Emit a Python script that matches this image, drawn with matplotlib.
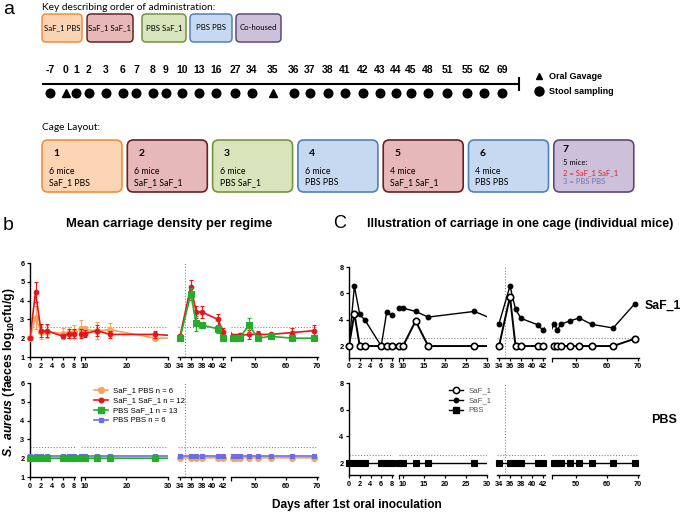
import numpy as np
import matplotlib
matplotlib.use('Agg')
import matplotlib.pyplot as plt
from matplotlib.patches import FancyBboxPatch
from matplotlib.lines import Line2D

plt.rcParams['font.family'] = ['Liberation Sans', 'DejaVu Sans']
plt.rcParams['mathtext.fontset'] = 'custom'
plt.rcParams['mathtext.rm'] = 'Liberation Sans:bold'
plt.rcParams['mathtext.it'] = 'Liberation Sans:italic:bold'
plt.rcParams['mathtext.bf'] = 'Liberation Sans:bold'

# ---------------- data ----------------
timeline_days = [-7, 0, 1, 2, 3, 6, 7, 8, 9, 10, 13, 16, 27, 34, 35, 36, 37, 38,
                 41, 42, 43, 44, 45, 48, 51, 55, 62, 69]
gavage_days = [0, 35]

key_labels = ['SaF_1 PBS', 'SaF_1 SaF_1', 'PBS SaF_1', 'PBS PBS', 'Co-housed']
cage_numbers = ['1', '2', '3', '4', '5', '6', '7']
cage_mice = ['6 mice', '6 mice', '6 mice', '6 mice', '4 mice', '4 mice', '5 mice:']
cage_regimes = ['SaF_1 PBS', 'SaF_1 SaF_1', 'PBS SaF_1', 'PBS PBS', 'SaF_1 SaF_1', 'PBS PBS', '']
cage7_lines = ['2 = SaF_1 SaF_1', '3 = PBS PBS']

days = [0, 1, 2, 3, 6, 7, 8, 9, 10, 13, 16, 27,
        34, 36, 37, 38, 41, 42, 43, 44, 45, 48, 51, 55, 62, 69]

saf1_pbs_mean = [2.0, 3.1, 2.35, 2.35, 2.25, 2.3, 2.35, 2.5, 2.45, 2.4, 2.45, 2.0,
                 2.02, 2.02, 2.02, 2.02, 2.02, 2.02, 2.02, 2.02, 2.02, 2.02, 2.02, 2.02, 2.02, 2.02]
saf1_pbs_err = [0.0, 0.6, 0.4, 0.35, 0.3, 0.3, 0.35, 0.45, 0.2, 0.45, 0.35, 0.1,
                0.0, 0.0, 0.0, 0.0, 0.0, 0.0, 0.0, 0.0, 0.0, 0.0, 0.0, 0.0, 0.0, 0.0]
saf1_saf1_mean = [2.0, 4.45, 2.4, 2.4, 2.1, 2.25, 2.25, 2.25, 2.25, 2.4, 2.2, 2.2,
                  2.1, 4.75, 3.4, 3.4, 3.0, 2.35, 2.1, 2.1, 2.15, 2.2, 2.2, 2.2, 2.3, 2.4]
saf1_saf1_err = [0.0, 0.55, 0.35, 0.35, 0.1, 0.25, 0.25, 0.25, 0.2, 0.3, 0.2, 0.2,
                 0.15, 0.35, 0.3, 0.3, 0.3, 0.2, 0.15, 0.15, 0.15, 0.25, 0.2, 0.1, 0.25, 0.3]
pbs_saf1_mean = [2.0, 2.0, 2.0, 2.0, 2.0, 2.0, 2.0, 2.0, 2.0, 2.0, 2.0, 2.0,
                 2.0, 4.35, 2.8, 2.7, 2.5, 2.0, 2.0, 2.0, 2.0, 2.7, 2.0, 2.1, 2.0, 2.0]
pbs_saf1_err = [0.0, 0.0, 0.0, 0.0, 0.0, 0.0, 0.0, 0.0, 0.0, 0.0, 0.0, 0.0,
                0.05, 0.3, 0.4, 0.15, 0.2, 0.05, 0.05, 0.05, 0.05, 0.4, 0.05, 0.05, 0.05, 0.05]
pbs_pbs_mean = [2.1, 2.1, 2.1, 2.1, 2.1, 2.1, 2.1, 2.1, 2.1, 2.1, 2.1, 2.1,
                2.1, 2.1, 2.1, 2.1, 2.1, 2.1, 2.1, 2.1, 2.1, 2.1, 2.1, 2.1, 2.1, 2.1]
legend_b_labels = ['SaF_1 PBS n = 6', 'SaF_1 SaF_1 n = 12', 'PBS SaF_1 n = 13', 'PBS PBS n = 6']

mouse_open = [2.0, 4.46, 2.0, 2.0, 2.0, 2.0, 2.0, 2.0, 2.0, 3.9, 2.0, 2.0,
              2.0, 5.75, 2.0, 2.0, 2.0, 2.0, 2.0, 2.0, 2.0, 2.0, 2.0, 2.0, 2.0, 2.56]
mouse_filled = [2.0, 6.55, 4.4, 3.95, 2.0, 4.55, 4.35, 4.9, 4.88, 4.63, 4.2, 4.63,
                3.7, 6.56, 4.8, 4.1, 3.62, 3.2, 3.7, 3.2, 3.65, 3.9, 4.13, 3.65, 3.37, 5.22]
mouse_pbs = [2.0, 2.0, 2.0, 2.0, 2.0, 2.0, 2.0, 2.0, 2.0, 2.0, 2.0, 2.0,
             2.0, 2.0, 2.0, 2.0, 2.0, 2.0, 2.0, 2.0, 2.0, 2.0, 2.0, 2.0, 2.0, 2.0]
legend_c_labels = ['SaF_1', 'SaF_1', 'PBS']

detection_limit = 2.58
second_gavage_day = 35

# ---------------- style ----------------
W, H = 685, 515
ORANGE = '#F6A55E'
RED = '#E3161B'
GREEN = '#22AD2A'
BLUE = '#6D6DE3'
TICKFS = 5.3

fig = plt.figure(figsize=(W / 100, H / 100), dpi=100)
ov = fig.add_axes([0, 0, 1, 1])
ov.set_xlim(0, W)
ov.set_ylim(H, 0)
ov.axis('off')

# ---------------- panel a ----------------
ov.text(3, 9, 'a', fontsize=14, va='center', ha='left')
ov.text(42, 8, 'Key describing order of administration:', fontsize=7.3, va='center',
        family=['Lato', 'DejaVu Sans'])

key_fill = ['#FBD4B4', '#E6B8B7', '#D7E4BC', '#C6D9F0', '#CCC0DA']
key_edge = ['#F0903A', '#632423', '#77933C', '#4F81BD', '#5F497A']
key_x = [(42, 82), (87, 133), (142, 186), (190, 232), (236, 281)]
for (x0, x1), lab, fc, ec in zip(key_x, key_labels, key_fill, key_edge):
    ov.add_patch(FancyBboxPatch((x0, 14), x1 - x0, 28, boxstyle='round,pad=0,rounding_size=4',
                                fc=fc, ec=ec, lw=1.1))
    ov.text((x0 + x1) / 2, 28, lab, fontsize=5.6, ha='center', va='center',
            family=['Lato', 'DejaVu Sans'])

# timeline
timeline_x = [50, 66, 76, 89, 106, 123, 136, 153, 166, 182, 199, 216, 235, 252, 273,
              294, 310, 328, 345, 363, 380, 396, 411, 428, 447, 467, 484, 502]
for d, x in zip(timeline_days, timeline_x):
    ov.text(x, 70, str(d), fontsize=7.5, fontweight='bold', ha='center', va='center')
    m = '^' if d in gavage_days else 'o'
    ov.plot([x], [93], marker=m, ms=6.2 if m == 'o' else 5.5, color='black', ls='none')
ov.plot([42, 519], [84, 84], color='black', lw=1.5, solid_capstyle='butt')
ov.plot([519, 519], [78, 90], color='black', lw=1.5)
ov.plot([539], [76], marker='^', ms=5, color='black')
ov.plot([539], [91], marker='o', ms=6.5, color='black')
ov.text(549, 76.5, 'Oral Gavage', fontsize=6.5, fontweight='bold', va='center')
ov.text(549, 91.5, 'Stool sampling', fontsize=6.5, fontweight='bold', va='center')

# cage layout
ov.text(42, 128, 'Cage Layout:', fontsize=7.3, va='center', family=['Lato', 'DejaVu Sans'])
cage_fill = [key_fill[0], key_fill[1], key_fill[2], key_fill[3], key_fill[1], key_fill[3], key_fill[4]]
cage_edge = [key_edge[0], key_edge[1], key_edge[2], key_edge[3], key_edge[1], key_edge[3], key_edge[4]]
for i in range(7):
    x0 = 42 + i * 85.3
    w = 80
    ov.add_patch(FancyBboxPatch((x0, 140), w, 52, boxstyle='round,pad=0,rounding_size=6',
                                fc=cage_fill[i], ec=cage_edge[i], lw=1.2))
    fam = ['Lato', 'DejaVu Sans']
    if i < 6:
        ov.text(x0 + 11, 154, cage_numbers[i], fontsize=7.5, fontweight='bold', va='center', family=fam)
        ov.text(x0 + 7, 171, cage_mice[i], fontsize=6.3, va='center', family=fam)
        ov.text(x0 + 7, 182.5, cage_regimes[i], fontsize=6.3, va='center', family=fam)
    else:
        ov.text(x0 + 9, 150, cage_numbers[i], fontsize=7.5, fontweight='bold', va='center', family=fam)
        ov.text(x0 + 9, 162.5, cage_mice[i], fontsize=5.5, va='center', family=fam)
        ov.text(x0 + 9, 172.5, cage7_lines[0], fontsize=5.5, va='center', color='#E0202A', family=fam)
        ov.text(x0 + 9, 182, cage7_lines[1], fontsize=5.5, va='center', color='#6A78B8', family=fam)

# ---------------- panels b / c ----------------
def make_seg(xlim, px_ref_day, px_ref, ppd, ytop, ybot, ylim, left_axis, xticks, yticks, start_tick):
    px0 = px_ref + (xlim[0] - px_ref_day) * ppd
    px1 = px_ref + (xlim[1] - px_ref_day) * ppd
    ax = fig.add_axes([px0 / W, 1 - ybot / H, (px1 - px0) / W, (ybot - ytop) / H])
    ax.set_xlim(*xlim)
    ax.set_ylim(*ylim)
    ax.patch.set_alpha(0)
    for s in ['top', 'right']:
        ax.spines[s].set_visible(False)
    ax.spines['bottom'].set_linewidth(1.0)
    ax.spines['left'].set_linewidth(1.0)
    if not left_axis:
        ax.spines['left'].set_visible(False)
        ax.set_yticks([])
    else:
        ax.set_yticks(yticks)
        ax.set_yticklabels([str(t) for t in yticks])
    ax.set_xticks(xticks)
    ax.set_xticklabels([str(t) for t in xticks])
    if start_tick:
        ax.set_xticks([xlim[0]], minor=True)
        ax.tick_params(axis='x', which='minor', length=3, width=0.9)
    ax.tick_params(axis='both', which='major', length=2.5, width=0.9, pad=1.5,
                   labelsize=TICKFS)
    for lab in ax.get_xticklabels() + ax.get_yticklabels():
        lab.set_fontweight('bold')
    ax.axhline(detection_limit, color='#888888', lw=0.8, ls=(0, (1, 1.6)), zorder=1)
    return ax


def build_row(layout, ytop, ybot, ylim, yticks, bticks):
    axes = []
    for k, (xlim, rday, rpx, ppd, xt, st) in enumerate(layout):
        if k == 1:
            xt = bticks
        axes.append(make_seg(xlim, rday, rpx, ppd, ytop, ybot, ylim, k == 0, xt, yticks, st))
    axes[2].axvline(second_gavage_day, color='#888888', lw=0.8, ls=(0, (1, 1.6)), zorder=1)
    return axes


b_layout = [((0, 8.2), 0, 30, 5.5, [0, 2, 4, 6, 8], False),
            ((9, 30), 10, 85, 4.14, [10, 20, 30], True),
            ((33.7, 42.3), 34, 180, 5.4, [34, 36, 38, 40, 42], False),
            ((42.3, 70.3), 50, 255, 3.1, [50, 60, 70], True)]
c_layout = [((0, 8.2), 0, 349, 5.375, [0, 2, 4, 6, 8], False),
            ((9, 30), 10, 403, 4.2, [10, 15, 20, 25, 30], True),
            ((33.7, 42.3), 34, 499, 5.5, [34, 36, 38, 40, 42], False),
            ((42.4, 70.3), 50, 576, 3.1, [50, 60, 70], True)]

b_top = build_row(b_layout, 263, 357, (1, 6), [1, 2, 3, 4, 5, 6], [10, 20, 30])
b_bot = build_row(b_layout, 383, 477, (1, 6), [1, 2, 3, 4, 5, 6], [10, 20, 30])
c_top = build_row(c_layout, 267, 357.9, (1.1, 8), [2, 4, 6, 8], [10, 15, 20, 25, 30])
c_bot = build_row(c_layout, 383, 475, (1.1, 8), [2, 4, 6, 8], [10, 15, 20, 25, 30])

d_arr = np.array(days, dtype=float)


def draw(axes, vals, err=None, color='k', marker='o', ms=3.5, mfc=None, mew=0.8, lw=1.2, z=3):
    v = np.array(vals, dtype=float)
    for ax in axes:
        lo, hi = ax.get_xlim()
        ax.plot(d_arr, v, color=color, lw=lw, zorder=z)
        m = (d_arr >= lo - 1e-9) & (d_arr <= hi + 1e-9)
        if err is not None:
            e = np.array(err, dtype=float)
            ax.errorbar(d_arr[m], v[m], yerr=e[m], fmt='none', ecolor=color, elinewidth=0.8,
                        capsize=1.6, capthick=0.8, zorder=z, clip_on=False)
        ax.plot(d_arr[m], v[m], ls='none', marker=marker, ms=ms, color=color,
                mfc=mfc if mfc else color, mec=color, mew=mew, zorder=z + 0.5, clip_on=False)


# b top: left = SaF_1 PBS & SaF_1 SaF_1 ; right = SaF_1 SaF_1 & PBS SaF_1
draw(b_top[:2], saf1_pbs_mean, saf1_pbs_err, color=ORANGE, marker='o', ms=4.2, z=3)
draw(b_top[:2], saf1_saf1_mean, saf1_saf1_err, color=RED, marker='o', ms=3.3, z=4)
draw(b_top[2:], saf1_saf1_mean, saf1_saf1_err, color=RED, marker='o', ms=3.3, z=4)
draw(b_top[2:], pbs_saf1_mean, pbs_saf1_err, color=GREEN, marker='s', ms=3.8, z=5)
# b bottom: left = PBS SaF_1 & PBS PBS ; right = SaF_1 PBS & PBS PBS
draw(b_bot[:2], pbs_pbs_mean, None, color=BLUE, marker='s', ms=3.0, z=3)
draw(b_bot[:2], pbs_saf1_mean, None, color=GREEN, marker='s', ms=3.8, z=4)
draw(b_bot[2:], saf1_pbs_mean, None, color=ORANGE, marker='o', ms=4.2, z=3)
draw(b_bot[2:], pbs_pbs_mean, None, color=BLUE, marker='s', ms=3.0, z=4)

# c
draw(c_top, mouse_filled, None, color='black', marker='o', ms=3.4, lw=1.0, z=3)
draw(c_top, mouse_open, None, color='black', marker='o', ms=4.6, mfc='white', mew=1.2, lw=1.4, z=4)
draw(c_bot, mouse_pbs, None, color='black', marker='s', ms=4.2, lw=1.0, z=3)

# legends
hb = [Line2D([], [], color=ORANGE, marker='o', ms=4.2, lw=1.2),
      Line2D([], [], color=RED, marker='o', ms=3.3, lw=1.2),
      Line2D([], [], color=GREEN, marker='s', ms=3.8, lw=1.2),
      Line2D([], [], color=BLUE, marker='s', ms=3.0, lw=1.2)]
fig.legend(hb, legend_b_labels, loc='upper left', bbox_to_anchor=(94 / W, 1 - 387 / H),
           frameon=False, fontsize=5.6, handlelength=1.8, handletextpad=0.7,
           labelspacing=0.32, borderpad=0, borderaxespad=0)
hc = [Line2D([], [], color='black', marker='o', ms=4.5, mfc='white', mew=1.1, lw=1.0),
      Line2D([], [], color='black', marker='o', ms=3.2, lw=1.0),
      Line2D([], [], color='black', marker='s', ms=3.8, lw=1.0)]
fig.legend(hc, legend_c_labels, loc='upper left', bbox_to_anchor=(449 / W, 1 - 387 / H),
           frameon=False, fontsize=5.6, handlelength=1.8, handletextpad=0.7,
           labelspacing=0.32, borderpad=0, borderaxespad=0, labelcolor='#555555')

# texts
ov.text(3, 226, 'b', fontsize=14, va='center', ha='left')
ov.text(333, 224, 'C', fontsize=13, va='center', ha='left')
ov.text(169, 224, 'Mean carriage density per regime', fontsize=9.4, fontweight='bold',
        ha='center', va='center')
ov.text(520, 224, 'Illustration of carriage in one cage (individual mice)', fontsize=9.0,
        fontweight='bold', ha='center', va='center')
ov.text(9, 372, r'$\it{S.\ aureus}$ (faeces log$_{10}$cfu/g)', fontsize=8.8, fontweight='bold',
        rotation=90, ha='center', va='center')
ov.text(357, 505, 'Days after 1st oral inoculation', fontsize=8.6, fontweight='bold',
        ha='center', va='center')
ov.text(681, 306, 'SaF_1', fontsize=8.8, fontweight='bold', ha='right', va='center')
ov.text(651, 420, 'PBS', fontsize=9, fontweight='bold', ha='left', va='center')

fig.savefig('out.png', dpi=100)
